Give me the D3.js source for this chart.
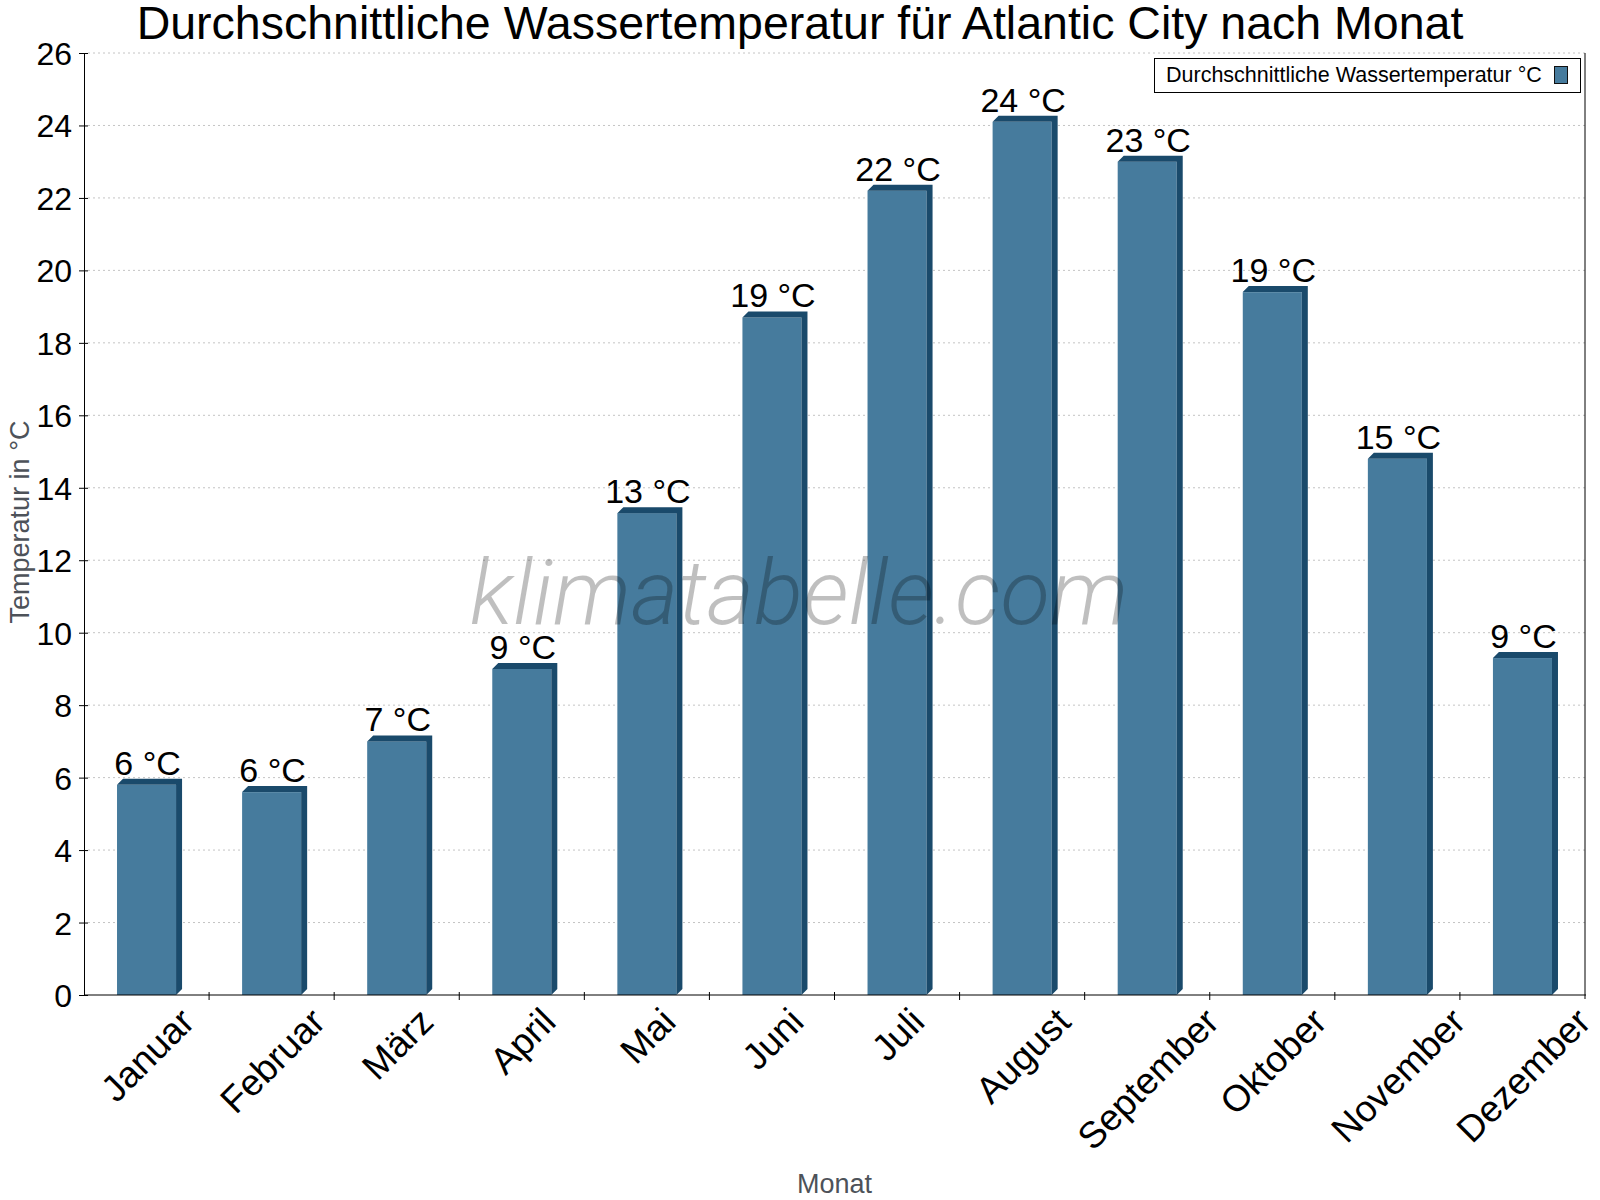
<!DOCTYPE html>
<html>
<head>
<meta charset="utf-8">
<script src="https://cdn.jsdelivr.net/npm/d3@7"></script>
<style>
  body { margin: 0; background: #fff; }
  svg { display: block; font-family: "Liberation Sans", Arial, sans-serif; }
</style>
</head>
<body>
<svg id="chart" width="1600" height="1200"></svg>
<script>
'use strict'

// ------ data ------
const months = ['Januar', 'Februar', 'März', 'April', 'Mai', 'Juni', 'Juli', 'August', 'September', 'Oktober', 'November', 'Dezember']
const waterTemp = [5.8, 5.6, 7.0, 9.0, 13.3, 18.7, 22.2, 24.1, 23.0, 19.4, 14.8, 9.3]
const yTicks = [0, 2, 4, 6, 8, 10, 12, 14, 16, 18, 20, 22, 24, 26]
const seriesName = 'Durchschnittliche Wassertemperatur °C'

const front = '#467b9d'
const dark = '#1a4a6b'
const depth = 6

const margin = { left: 84, right: 15, top: 53, bottom: 205 }
const width = 1600, height = 1200
const svg = d3.select('#chart')

const x = d3.scaleBand()
  .domain(months)
  .range([margin.left, width - margin.right])
  .paddingInner(0.528)
  .paddingOuter(0.264)

const y = d3.scaleLinear()
  .domain([0, 26])
  .range([height - margin.bottom, margin.top])

const x0 = margin.left, x1 = width - margin.right
const yb = y(0)

// ------ grid ------
svg.append('g')
  .selectAll('line')
  .data(yTicks.filter(d => d > 0))
  .join('line')
  .attr('x1', x0 + 4).attr('x2', x1)
  .attr('y1', d => y(d)).attr('y2', d => y(d))
  .attr('stroke', '#c4c4c4')
  .attr('stroke-dasharray', '2,3')

// ------ bars: front face, then top + side in the dark shade ------
const bars = svg.append('g')
  .selectAll('g')
  .data(months.map((m, i) => ({ m, v: waterTemp[i] })))
  .join('g')

bars.append('rect')
  .attr('x', d => x(d.m))
  .attr('y', d => y(d.v))
  .attr('width', x.bandwidth())
  .attr('height', d => yb - y(d.v))
  .attr('fill', front)

bars.append('path')
  .attr('fill', dark)
  .attr('d', d => {
    const l = x(d.m), r = l + x.bandwidth(), t = y(d.v)
    return `M${l},${t}L${l + depth},${t - depth}L${r + depth},${t - depth}` +
      `L${r + depth},${yb - depth}L${r},${yb}L${r},${t}Z`
  })

// ------ watermark (semi transparent, over the bars) ------
svg.append('text')
  .attr('x', 799).attr('y', 624)
  .attr('text-anchor', 'middle')
  .style('font-family', 'Roboto, sans-serif')
  .style('font-weight', 300)
  .style('font-style', 'italic')
  .style('font-size', '91px')
  .attr('fill', '#000')
  .attr('fill-opacity', 0.25)
  .text('klimatabelle.com')

// ------ value labels ------
bars.append('text')
  .attr('x', d => x(d.m) + x.bandwidth() / 2 + 1)
  .attr('y', d => y(d.v) - 10)
  .attr('text-anchor', 'middle')
  .style('font-size', '34px')
  .attr('fill', '#000')
  .text(d => Math.round(d.v) + ' °C')

// ------ axes ------
const yAxis = svg.append('g')
  .attr('transform', `translate(${x0},0)`)
  .call(d3.axisLeft(y).tickValues(yTicks).tickSize(5).tickSizeOuter(0))
yAxis.select('.domain').attr('stroke', '#000')
yAxis.selectAll('.tick line').attr('x1', -5).attr('x2', 4).attr('stroke', '#000')
yAxis.selectAll('.tick text')
  .attr('x', -12)
  .attr('dy', '0.36em')
  .style('font-size', '32px')
  .style('font-family', '"Liberation Sans", Arial, sans-serif')
  .attr('fill', '#000')

// bottom axis line, right border, ticks at category boundaries
svg.append('line')
  .attr('x1', x0).attr('x2', x1 + 1)
  .attr('y1', yb).attr('y2', yb)
  .attr('stroke', '#000')
svg.append('line')
  .attr('x1', x1).attr('x2', x1)
  .attr('y1', y(26)).attr('y2', yb + 4)
  .attr('stroke', '#000')
svg.append('g')
  .selectAll('line')
  .data(months.slice(0, -1))
  .join('line')
  .attr('x1', d => x(d) + x.bandwidth() / 2 + x.step() / 2)
  .attr('x2', d => x(d) + x.bandwidth() / 2 + x.step() / 2)
  .attr('y1', yb - 3).attr('y2', yb + 5)
  .attr('stroke', '#000')

// rotated month labels, bbox centred on band
const xlSize = 37
svg.append('g')
  .selectAll('text')
  .data(months)
  .join('text')
  .style('font-size', xlSize + 'px')
  .attr('text-anchor', 'middle')
  .attr('dominant-baseline', 'central')
  .attr('fill', '#000')
  .text(d => d)
  .attr('transform', function (d) {
    const w = this.getComputedTextLength()
    const cx = x(d) + x.bandwidth() / 2 + 1
    const cy = yb + 9 + (w + xlSize * 0.85) * Math.SQRT1_2 / 2
    return `translate(${cx},${cy}) rotate(-45)`
  })

// ------ axis titles ------
svg.append('text')
  .attr('transform', `translate(29,${(y(26) + yb) / 2 - 2}) rotate(-90)`)
  .attr('text-anchor', 'middle')
  .style('font-size', '27px')
  .attr('fill', '#4d5259')
  .text('Temperatur in °C')

svg.append('text')
  .attr('x', (x0 + x1) / 2).attr('y', 1193)
  .attr('text-anchor', 'middle')
  .style('font-size', '27px')
  .attr('fill', '#4d5259')
  .text('Monat')

// ------ title ------
svg.append('text')
  .attr('x', 800).attr('y', 39)
  .attr('text-anchor', 'middle')
  .style('font-size', '46.5px')
  .attr('fill', '#000')
  .text('Durchschnittliche Wassertemperatur für Atlantic City nach Monat')

// ------ legend ------
const lg = svg.append('g')
lg.append('rect')
  .attr('x', 1154.5).attr('y', 58.5)
  .attr('width', 426).attr('height', 34)
  .attr('fill', '#fff').attr('stroke', '#000')
lg.append('text')
  .attr('x', 1166).attr('y', 82)
  .style('font-size', '21.5px')
  .attr('fill', '#000')
  .text(seriesName)
lg.append('rect')
  .attr('x', 1554.5).attr('y', 66.5)
  .attr('width', 13).attr('height', 17)
  .attr('fill', front).attr('stroke', '#111')
</script>
</body>
</html>
